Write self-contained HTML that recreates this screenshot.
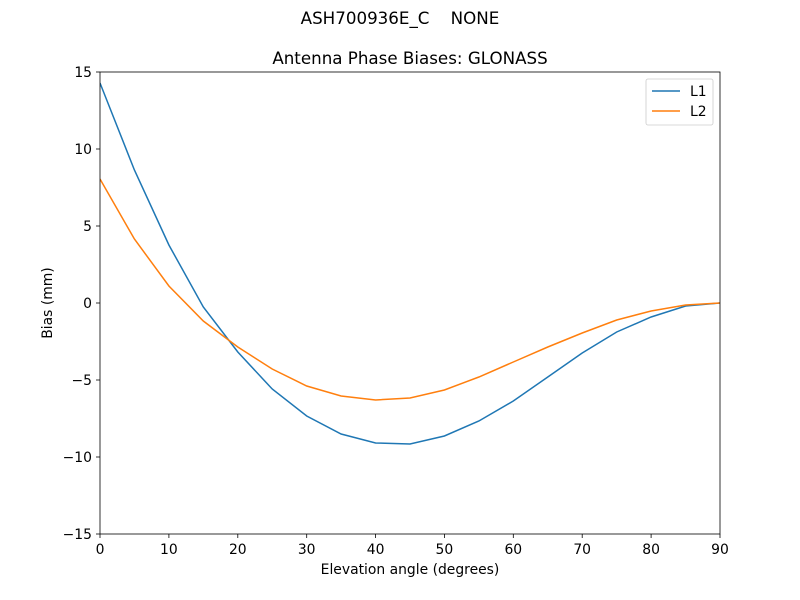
<!DOCTYPE html>
<html><head><meta charset="utf-8"><style>body{margin:0;background:#fff}svg{display:block}text{font-family:"DejaVu Sans","Liberation Sans",sans-serif;fill:#000;white-space:pre}</style></head><body>
<svg width="800" height="600" viewBox="0 0 800 600" xmlns="http://www.w3.org/2000/svg">
<rect width="800" height="600" fill="#fff"/>
<text x="400" y="24" font-size="16.7" text-anchor="middle" xml:space="preserve">ASH700936E_C    NONE</text>
<text x="410" y="64" font-size="16.7" text-anchor="middle">Antenna Phase Biases: GLONASS</text>
<g stroke="#000" stroke-width="0.8">
<line x1="100" y1="534" x2="100" y2="538"/><line x1="168.9" y1="534" x2="168.9" y2="538"/><line x1="237.8" y1="534" x2="237.8" y2="538"/><line x1="306.7" y1="534" x2="306.7" y2="538"/><line x1="375.6" y1="534" x2="375.6" y2="538"/><line x1="444.4" y1="534" x2="444.4" y2="538"/><line x1="513.3" y1="534" x2="513.3" y2="538"/><line x1="582.2" y1="534" x2="582.2" y2="538"/><line x1="651.1" y1="534" x2="651.1" y2="538"/><line x1="720" y1="534" x2="720" y2="538"/>
<line x1="96" y1="72" x2="100" y2="72"/><line x1="96" y1="149" x2="100" y2="149"/><line x1="96" y1="226" x2="100" y2="226"/><line x1="96" y1="303" x2="100" y2="303"/><line x1="96" y1="380" x2="100" y2="380"/><line x1="96" y1="457" x2="100" y2="457"/><line x1="96" y1="534" x2="100" y2="534"/>
</g>
<g font-size="13.9" text-anchor="middle">
<text x="100" y="554">0</text><text x="168.9" y="554">10</text><text x="237.8" y="554">20</text><text x="306.7" y="554">30</text><text x="375.6" y="554">40</text><text x="444.4" y="554">50</text><text x="513.3" y="554">60</text><text x="582.2" y="554">70</text><text x="651.1" y="554">80</text><text x="720" y="554">90</text>
</g>
<g font-size="13.9" text-anchor="end">
<text x="92" y="77">15</text><text x="92" y="154">10</text><text x="92" y="231">5</text><text x="92" y="308">0</text><text x="92" y="385">−5</text><text x="92" y="462">−10</text><text x="92" y="539">−15</text>
</g>
<text x="410" y="574" font-size="13.9" text-anchor="middle">Elevation angle (degrees)</text>
<text transform="translate(52,303) rotate(-90)" font-size="13.9" text-anchor="middle">Bias (mm)</text>
<svg x="100" y="72" width="620" height="462" overflow="hidden">
<g transform="translate(-100,-72)" fill="none" stroke-width="1.5">
<polyline stroke="#1f77b4" points="100,83 134.4,170 168.9,245 203.3,307 237.8,352 272.2,389 306.7,416 341.1,434 375.6,443 410,444 444.4,436 478.9,421 513.3,401 547.8,377 582.2,353 616.7,332 651.1,317 685.6,306 720,303"/>
<polyline stroke="#ff7f0e" points="100,179 134.4,239 168.9,286 203.3,321 237.8,347 272.2,369 306.7,386 341.1,396 375.6,400 410,398 444.4,390 478.9,377 513.3,362 547.8,347 582.2,333 616.7,320 651.1,311 685.6,305 720,303"/>
</g></svg>
<rect x="100" y="72" width="620" height="462" fill="none" stroke="#000" stroke-width="0.8"/>
<rect x="646" y="79" width="67" height="46" rx="2" fill="#fff" stroke="#ccc" stroke-width="0.8"/>
<line x1="652" y1="91" x2="680" y2="91" stroke="#1f77b4" stroke-width="1.5"/>
<line x1="652" y1="111" x2="680" y2="111" stroke="#ff7f0e" stroke-width="1.5"/>
<text x="690" y="96" font-size="13.9">L1</text>
<text x="690" y="116" font-size="13.9">L2</text>
</svg>
</body></html>
